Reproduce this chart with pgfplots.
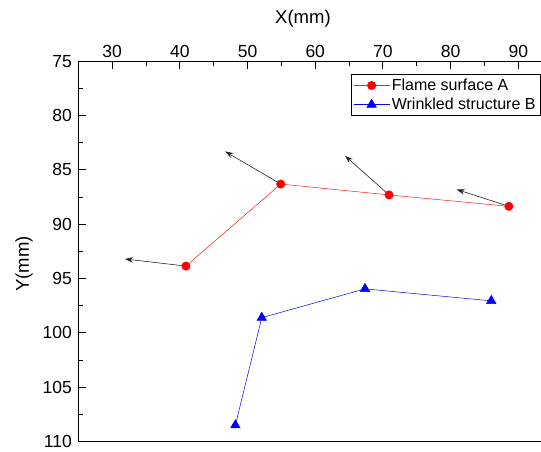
\documentclass[border=0pt]{standalone}
\usepackage{fontspec}
\setmainfont{Liberation Sans}
\usepackage{pgfplots}
\pgfplotsset{compat=1.18}
\usetikzlibrary{arrows.meta}
\begin{document}
\begin{tikzpicture}
\begin{axis}[name=ax, at={(0pt,0pt)}, anchor=south west,
  scale only axis, width=473.9pt, height=380.2pt,
  xmin=25, xmax=95, ymin=75, ymax=110, y dir=reverse,
  xtick={30,40,...,90}, ytick={75,80,...,110},
  minor x tick num=1, minor y tick num=1,
  xtick pos=right, xticklabel pos=right,
  ytick pos=left, yticklabel pos=left,
  tick align=inside, major tick length=8pt, minor tick length=5pt,
  every tick/.style={black, line width=0.9pt},
  axis line style={black, line width=1.3pt},
  /pgf/number format/assume math mode=true,
  tick label style={font=\fontsize{17.5}{20}\selectfont},
  yticklabel style={xshift=-3pt},
  xlabel={X(mm)}, ylabel={Y(mm)},
  label style={font=\fontsize{18.5}{22}\selectfont},
  xlabel style={at={(axis description cs:0.474,1)}, anchor=south, yshift=30pt},
  ylabel style={at={(axis description cs:0,0.467)}, anchor=south, yshift=42pt},
  legend style={at={(axis description cs:0.975,0.966)}, anchor=north east,
    draw=black, line width=0.5pt, font=\fontsize{16}{18}\selectfont,
    inner sep=2.5pt, row sep=2pt, cells={anchor=west}},
  legend image code/.code={\draw[mark repeat=2,mark phase=2] plot coordinates {(0pt,0pt) (18pt,0pt) (36pt,0pt)};},
]
% arrows
\addplot[forget plot, black!85, line width=0.6pt, -{Stealth[length=8pt,width=5.5pt]}] coordinates {(40.9,93.85) (31.9,93.2)};
\addplot[forget plot, black!85, line width=0.6pt, -{Stealth[length=8pt,width=5.5pt]}] coordinates {(54.9,86.3) (46.7,83.3)};
\addplot[forget plot, black!85, line width=0.6pt, -{Stealth[length=8pt,width=5.5pt]}] coordinates {(70.9,87.3) (64.4,83.7)};
\addplot[forget plot, black!85, line width=0.6pt, -{Stealth[length=8pt,width=5.5pt]}] coordinates {(88.6,88.35) (80.9,86.8)};
% series
\addplot[red!90, line width=0.5pt, mark=*, mark size=4.2pt, mark options={fill=red, draw=red, solid}] coordinates {(40.9,93.85) (54.9,86.3) (70.9,87.3) (88.6,88.35)};
\addlegendentry{Flame surface A}
\addplot[blue, line width=0.5pt, mark=triangle*, mark size=5.5pt, mark options={fill=blue, draw=blue, solid}] coordinates {(48.2,108.5) (52.1,98.6) (67.35,95.95) (86.0,97.05)};
\addlegendentry{Wrinkled structure B}
\end{axis}
\pgfresetboundingbox
\path[use as bounding box] (-78.3pt,-9.5pt) rectangle (462.7pt,441.5pt);
\end{tikzpicture}
\end{document}
